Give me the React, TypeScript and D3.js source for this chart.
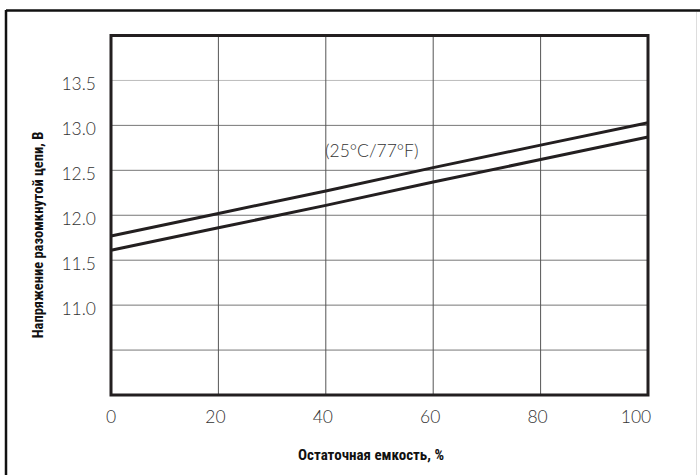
import React from "react";
import * as d3 from "d3";

const capacity = [0, 20, 40, 60, 80, 100];
const upperVoltage = [11.77, 12.02, 12.27, 12.53, 12.78, 13.03];
const lowerVoltage = [11.61, 11.86, 12.11, 12.37, 12.62, 12.87];
const xTicks = [0, 20, 40, 60, 80, 100];
const yGrid = [10.5, 11.0, 11.5, 12.0, 12.5, 13.0, 13.5];
const yLabels = [11.0, 11.5, 12.0, 12.5, 13.0, 13.5];
const xTitle = "Остаточная емкость, %";
const yTitle = "Напряжение разомкнутой цепи, В";
const note = "(25°C/77°F)";

const W = 700;
const H = 475;
const plot = { left: 111, top: 35.5, right: 648, bottom: 395 };

export default function App() {
  const x = d3.scaleLinear().domain([0, 100]).range([plot.left, plot.right]);
  const y = d3.scaleLinear().domain([10, 14]).range([plot.bottom, plot.top]);
  const line = d3
    .line<number>()
    .x((_, i) => x(capacity[i]))
    .y((d) => y(d));
  const dark = "#231f20";
  const tickFont = "Lato, 'Open Sans', sans-serif";
  const titleFont = "'Liberation Sans Narrow', 'Roboto Condensed', 'DejaVu Sans Condensed', sans-serif";

  return (
    <svg
      width={W}
      height={H}
      style={{ position: "absolute", left: 0, top: 0, background: "#fff" }}
    >
      <rect x={0} y={0} width={W} height={H} fill="#fff" />
      {/* outer frame */}
      <line x1={6} y1={10.5} x2={W} y2={10.5} stroke="#111" strokeWidth={2.5} />
      <line x1={6} y1={10} x2={6} y2={H} stroke="#111" strokeWidth={2.5} />
      <line x1={696.5} y1={12} x2={696.5} y2={H} stroke="#ddd" strokeWidth={1} />

      {/* grid */}
      {yGrid.map((v) => (
        <line
          key={"h" + v}
          x1={plot.left}
          x2={plot.right}
          y1={y(v)}
          y2={y(v)}
          stroke={v === 13.5 ? "#bbb" : "#777"}
          strokeWidth={1}
        />
      ))}
      {xTicks.slice(1, -1).map((v) => (
        <line
          key={"v" + v}
          x1={x(v)}
          x2={x(v)}
          y1={plot.top}
          y2={plot.bottom}
          stroke="#555"
          strokeWidth={1}
        />
      ))}

      {/* plot border */}
      <rect
        x={plot.left}
        y={plot.top}
        width={plot.right - plot.left}
        height={plot.bottom - plot.top}
        fill="none"
        stroke={dark}
        strokeWidth={3}
      />

      {/* data lines */}
      <path d={line(upperVoltage) || ""} fill="none" stroke={dark} strokeWidth={3} />
      <path d={line(lowerVoltage) || ""} fill="none" stroke={dark} strokeWidth={3} />

      {/* note */}
      <text
        x={325}
        y={157}
        fontFamily={tickFont}
        fontWeight={300}
        fontSize={17.5}
        fill="#333"
      >
        {note}
      </text>

      {/* y labels */}
      {yLabels.map((v) => (
        <text
          key={"yl" + v}
          x={96}
          y={y(v) + 10}
          textAnchor="end"
          fontFamily={tickFont}
          fontWeight={300}
          fontSize={17.5}
          fill="#333"
        >
          {v.toFixed(1)}
        </text>
      ))}

      {/* x labels */}
      {xTicks.map((v) => (
        <text
          key={"xl" + v}
          x={x(v) - (v === 100 ? 12 : v === 0 ? 0 : 3)}
          y={423}
          textAnchor="middle"
          fontFamily={tickFont}
          fontWeight={300}
          fontSize={17.5}
          fill="#333"
        >
          {v}
        </text>
      ))}

      {/* axis titles */}
      <text
        x={371}
        y={460}
        textAnchor="middle"
        fontFamily={titleFont}
        fontWeight="bold"
        fontSize={15}
        fill="#111"
      >
        {xTitle}
      </text>
      <text
        transform={`translate(42.5, 235) rotate(-90)`}
        textAnchor="middle"
        fontFamily={titleFont}
        fontWeight="bold"
        fontSize={14.5}
        fill="#111"
      >
        {yTitle}
      </text>
    </svg>
  );
}
